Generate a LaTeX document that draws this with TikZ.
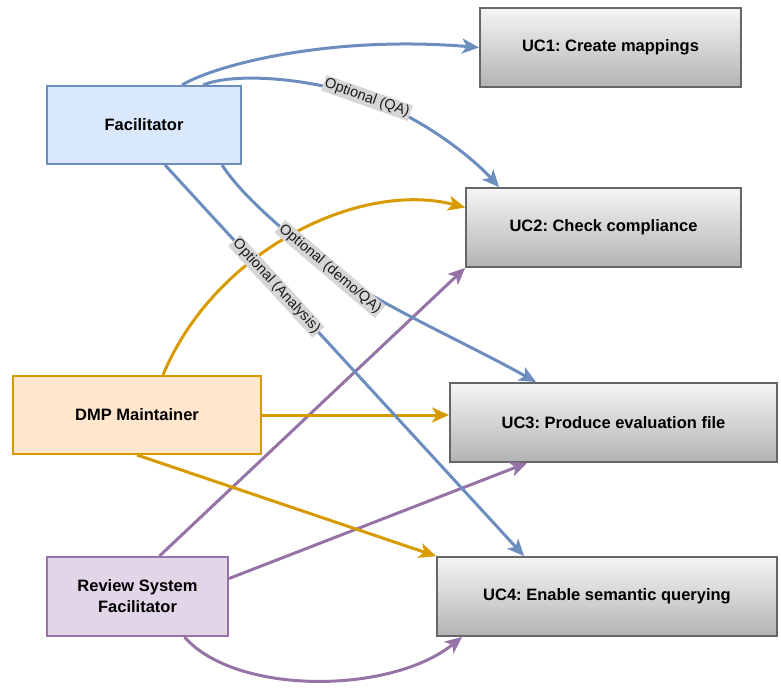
\documentclass[tikz,border=0pt]{standalone}
\usepackage{fontspec}
\setmainfont{Liberation Sans}
\usetikzlibrary{arrows.meta}
\definecolor{facline}{HTML}{6C8EBF}
\definecolor{facfill}{HTML}{DAE8FC}
\definecolor{dmpline}{HTML}{D79B00}
\definecolor{dmpfill}{HTML}{FFE6CC}
\definecolor{rsfline}{HTML}{9673A6}
\definecolor{rsffill}{HTML}{E1D5E7}
\definecolor{ucline}{HTML}{666666}
\definecolor{uctop}{HTML}{F5F5F5}
\definecolor{ucbot}{HTML}{B3B3B3}
\definecolor{lblgray}{HTML}{D6D6D6}
\definecolor{lbltext}{HTML}{1A1A1A}

\begin{document}
\frenchspacing
\begin{tikzpicture}[x=1pt,y=-1pt,
  actor/.style={draw,line width=2pt,minimum height=78,inner sep=2pt,align=center,
    font=\fontsize{16.5}{21}\selectfont\bfseries},
  usecase/.style={draw=ucline,line width=1.8pt,top color=uctop,bottom color=ucbot,
    minimum height=79,inner sep=2pt,font=\fontsize{16.5}{21}\selectfont\bfseries},
  link/.style={line width=3pt,-{Stealth[length=17pt,width=15pt,inset=4.5pt]}},
  opt/.style={fill=lblgray,text=lbltext,inner sep=1.5pt,sloped,
    font=\fontsize{14.5}{16}\selectfont}]
% frame
\useasboundingbox (0,0) rectangle (781,688);
% actors
\node [actor, draw=facline, fill=facfill, minimum width=194] (fac) at (144,125) {Facilitator};
\node [actor, draw=dmpline, fill=dmpfill, minimum width=248] (dmp) at (137,415) {DMP Maintainer};
\node [actor, draw=rsfline, fill=rsffill, minimum width=181, minimum height=79] (rsf) at (137.5,596.5) {Review System\\Facilitator};
% use cases
\node [usecase, minimum width=261] (uc1) at (610.5,47.5) {UC1: Create mappings};
\node [usecase, minimum width=275] (uc2) at (603.5,227.5) {UC2: Check compliance};
\node [usecase, minimum width=327] (uc3) at (613.5,422.5) {UC3: Produce evaluation file};
\node [usecase, minimum width=340] (uc4) at (607,596.5) {UC4: Enable semantic querying};
% review system facilitator
\draw [link, rsfline] ([xshift=22]rsf.north) -- (uc2.south west);
\draw [link, rsfline] ([yshift=18]rsf.east) -- ([xshift=78]uc3.south west);
\draw [link, rsfline] ([xshift=47]rsf.south) .. controls (235,695) and (390,695) .. ([xshift=26]uc4.south west);
% dmp maintainer
\draw [link, dmpline] ([xshift=26]dmp.north) .. controls (215,250) and (360,180) .. ([yshift=20]uc2.west);
\draw [link, dmpline] (dmp.east) -- (dmp.east -| uc3.west);
\draw [link, dmpline] (dmp.south) -- (uc4.north west);
% facilitator
\draw [link, facline] ([xshift=38]fac.north) .. controls (215,65) and (330,35) .. (uc1.west);
\draw [link, facline] ([xshift=59]fac.north) .. controls (235,72) and (310,78) .. (367,98)
  node [opt, pos=1] {Optional (QA)}
  .. controls (420,117) and (470,155) .. ([xshift=34]uc2.north west);
\draw [link, facline] ([xshift=78]fac.south) .. controls (245,200) and (290,235) .. (330,269)
  node [opt, pos=1] {Optional (demo/QA)}
  .. controls (380,305) and (470,345) .. ([xshift=87]uc3.north west);
\draw [link, facline] ([xshift=21]fac.south) -- node [opt, pos=0.31] {Optional (Analysis)} ([xshift=88]uc4.north west);
\end{tikzpicture}
\end{document}
